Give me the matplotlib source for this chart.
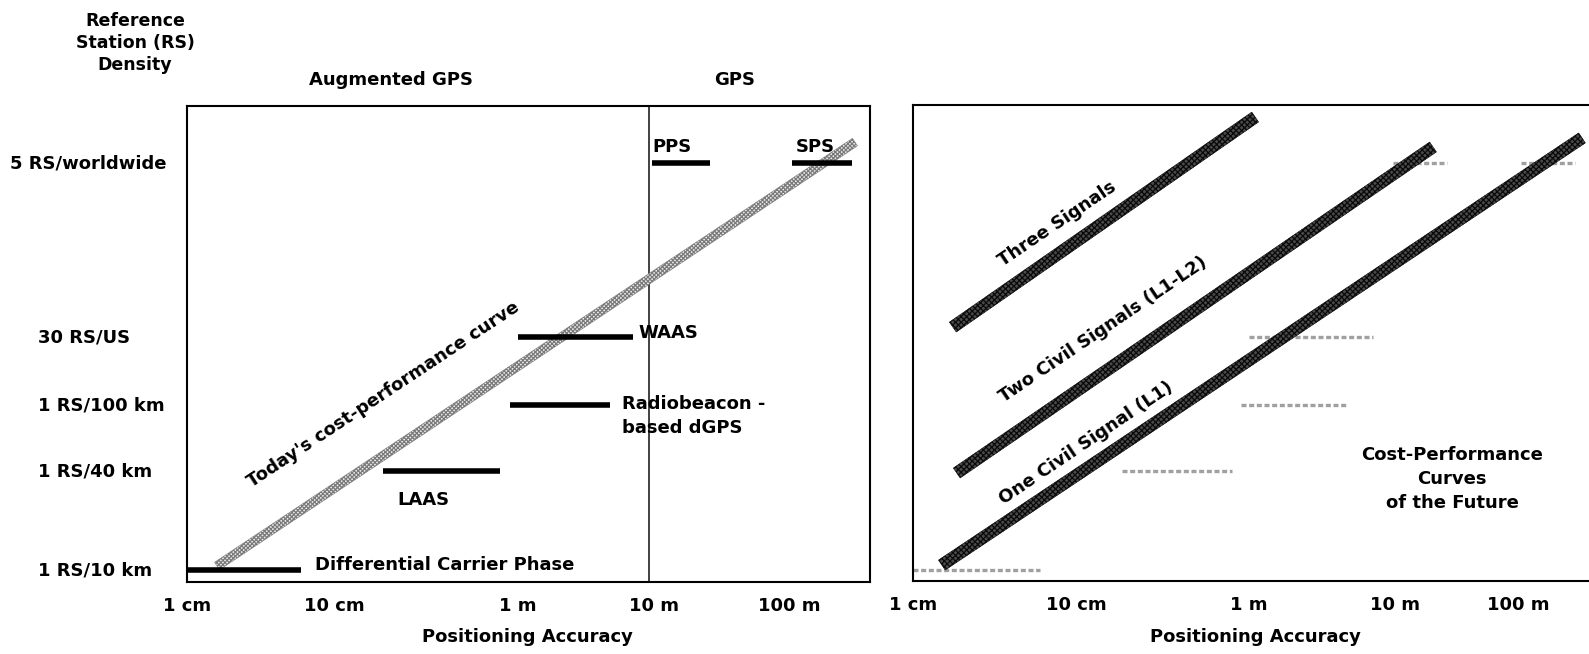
import numpy as np
import matplotlib
matplotlib.use('Agg')
import matplotlib.pyplot as plt
from matplotlib import transforms

# --- data -------------------------------------------------------------
# reference station density levels, bottom to top
LEVELS = ['1 RS/10 km', '1 RS/40 km', '1 RS/100 km', '30 RS/US', '5 RS/worldwide']

# positioning accuracy ticks (metres)
TICK_VALUES = [0.01, 0.1, 1, 10, 100]
TICK_LABELS = ['1 cm', '10 cm', '1 m', '10 m', '100 m']

# today's systems: accuracy range (m) at a density level
SYSTEMS = ['Differential Carrier Phase', 'LAAS', 'Radiobeacon -\nbased dGPS', 'WAAS', 'PPS', 'SPS']
SYS_LEVEL = [0, 1, 2, 3, 4, 4]
SYS_LO = [0.01, 0.184, 0.905, 1.0, 9.7, 105]
SYS_HI = [0.06, 0.80, 4.7, 7.0, 26, 290]
GPS_BOUNDARY = 9.2  # m, split between augmented GPS and GPS

# today's cost-performance curve (accuracy m, density level)
TODAY_X = [0.016, 305]
TODAY_Y = [0.04, 4.12]

# cost-performance curves of the future
FUTURE = ['Three Signals', 'Two Civil Signals (L1-L2)', 'One Civil Signal (L1)']
FUTURE_X0 = [0.0175, 0.0185, 0.015]
FUTURE_X1 = [1.11, 20.2, 328]
FUTURE_Y0 = [3.057, 0.98, 0.05]
FUTURE_Y1 = [4.264, 4.092, 4.144]
FUTURE_LABEL_X = [0.0757, 0.143, 0.1135]
FUTURE_LABEL_Y = [3.649, 3.04, 1.424]

# --- layout (pixels of the 1589x654 picture) --------------------------
W, H = 1589, 654
LEFT_BOX = (187, 106, 870, 582)     # x0, top, x1, bottom
RIGHT_BOX = (913, 105, 1589, 581)
LEFT_TICK_PX = [183, 331, 516, 653, 789]
RIGHT_TICK_PX = [908, 1073, 1246, 1394, 1518]
LEVEL_PX = [570, 471, 405, 337, 163]
LABEL_OFFSETS = [(14, 5, 'left', 'center'), (15, -29, 'left', 'center'),
                 (12, 10, 'left', 'top'), (5, 4, 'left', 'center'),
                 (0, 16, 'left', 'center'), (3, 16, 'left', 'center')]
LABEL_AT_END = [True, False, True, True, False, False]

plt.rcParams['font.family'] = ['DejaVu Sans']
plt.rcParams['font.weight'] = 'bold'
plt.rcParams['font.size'] = 13
plt.rcParams['hatch.linewidth'] = 0.9


def piecewise(k_in, k_out):
    k_in = np.asarray(k_in, float); k_out = np.asarray(k_out, float)
    s_lo = (k_out[1] - k_out[0]) / (k_in[1] - k_in[0])
    s_hi = (k_out[-1] - k_out[-2]) / (k_in[-1] - k_in[-2])

    def f(v):
        v = np.asarray(v, float)
        out = np.interp(v, k_in, k_out)
        out = np.where(v < k_in[0], k_out[0] + (v - k_in[0]) * s_lo, out)
        out = np.where(v > k_in[-1], k_out[-1] + (v - k_in[-1]) * s_hi, out)
        return out
    return f


def setup_axes(fig, box, tick_px):
    x0, top, x1, bot = box
    ax = fig.add_axes([x0 / W, 1 - bot / H, (x1 - x0) / W, (bot - top) / H])
    dec = np.log10(TICK_VALUES)
    fx = piecewise(dec, tick_px)
    fx_inv = piecewise(tick_px, dec)
    ax.set_xscale('function', functions=(lambda x: fx(np.log10(np.clip(x, 1e-12, None))),
                                         lambda p: 10 ** fx_inv(p)))
    lv = np.arange(len(LEVELS))
    neg = [-p for p in LEVEL_PX]
    fy = piecewise(lv, neg)
    fy_inv = piecewise(neg, lv)
    ax.set_yscale('function', functions=(fy, fy_inv))
    ax.set_xlim(10 ** fx_inv(x0), 10 ** fx_inv(x1))
    ax.set_ylim(fy_inv(-bot), fy_inv(-top))
    ax.set_xticks(TICK_VALUES, TICK_LABELS)
    ax.set_yticks([])
    ax.minorticks_off()
    ax.tick_params(axis='x', length=0, pad=11, labelsize=13)
    for s in ax.spines.values():
        s.set_linewidth(1.5)
    return ax


def band(ax, xs, ys, width, face, hatch, hcolor, z=3):
    p = ax.transData.transform(np.column_stack([xs, ys]))
    d = p[1] - p[0]
    n = np.array([-d[1], d[0]]) / np.hypot(d[0], d[1]) * width / 2
    quad = np.array([p[0] + n, p[1] + n, p[1] - n, p[0] - n])
    q = ax.transData.inverted().transform(quad)
    ax.fill(q[:, 0], q[:, 1], facecolor=face, edgecolor=hcolor, hatch=hatch,
            linewidth=0.4, zorder=z)


fig = plt.figure(figsize=(W / 100, H / 100), dpi=100)

# ---- left panel: today
ax = setup_axes(fig, LEFT_BOX, LEFT_TICK_PX)
ax.axvline(GPS_BOUNDARY, color='#333333', lw=1.3, zorder=2)
band(ax, TODAY_X, TODAY_Y, 9, '#ebebeb', 'xxxxxxxx', '#7a7a7a', z=3)
for i, name in enumerate(SYSTEMS):
    lvl = SYS_LEVEL[i]
    ax.plot([SYS_LO[i], SYS_HI[i]], [lvl, lvl], color='black', lw=4,
            solid_capstyle='butt', zorder=4)
    dx, dy, ha, va = LABEL_OFFSETS[i]
    xa = SYS_HI[i] if LABEL_AT_END[i] else SYS_LO[i]
    ax.annotate(name, xy=(xa, lvl), xytext=(dx, dy), textcoords='offset pixels',
                ha=ha, va=va, linespacing=1.4, zorder=5)
ax.text(0.186, 2.147, "Today's cost-performance curve", rotation=33.5,
        rotation_mode='anchor', ha='center', va='center', zorder=5)
ax.text(0.499, -0.116, 'Positioning Accuracy', transform=ax.transAxes,
        ha='center', va='center')

ytr = transforms.blended_transform_factory(fig.transFigure, ax.transData)
for i, lab in enumerate(LEVELS):
    xl = 10 if lab == '5 RS/worldwide' else 38
    ax.text(xl / W, i, lab, transform=ytr, ha='left', va='center')

fig.text(135 / W, 1 - 43 / H, 'Reference\nStation (RS)\nDensity', ha='center',
         va='center', linespacing=1.25, fontsize=12.5)
fig.text(391 / W, 1 - 80 / H, 'Augmented GPS', ha='center', va='center')
fig.text(735 / W, 1 - 80 / H, 'GPS', ha='center', va='center')

# ---- right panel: future (today's systems shown faintly for reference)
ax2 = setup_axes(fig, RIGHT_BOX, RIGHT_TICK_PX)
ax2.spines['right'].set_visible(False)
for i in range(len(SYSTEMS)):
    lvl = SYS_LEVEL[i]
    ax2.plot([SYS_LO[i], SYS_HI[i]], [lvl, lvl], color='#a0a0a0', lw=2.4,
             linestyle=(0, (1.5, 0.8)), zorder=2)
for i, name in enumerate(FUTURE):
    band(ax2, [FUTURE_X0[i], FUTURE_X1[i]], [FUTURE_Y0[i], FUTURE_Y1[i]], 12,
         '#4a4a4a', 'xxxxxx', '#0a0a0a', z=3)
    ax2.text(FUTURE_LABEL_X[i], FUTURE_LABEL_Y[i], name, rotation=34,
             rotation_mode='anchor', ha='center', va='center', zorder=5)
ax2.text((1452 - 913) / 676, (581 - 479) / 476, 'Cost-Performance\nCurves\nof the Future',
         transform=ax2.transAxes, ha='center', va='center', linespacing=1.45)
ax2.text(0.506, -0.118, 'Positioning Accuracy', transform=ax2.transAxes,
         ha='center', va='center')

fig.savefig('out.png', dpi=100)
